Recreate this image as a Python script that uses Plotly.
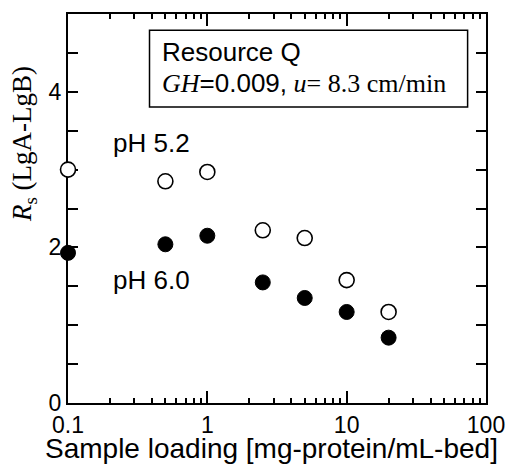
import plotly.graph_objects as go

# Sample loading [mg-protein/mL-bed]
loading = [0.1, 0.5, 1.0, 2.5, 5.0, 10, 20]
# Rs (LgA-LgB)
rs_ph52 = [3.00, 2.85, 2.97, 2.22, 2.12, 1.58, 1.17]
rs_ph60 = [1.93, 2.04, 2.15, 1.55, 1.35, 1.17, 0.84]

x_ticks = [0.1, 1, 10, 100]
x_ticktext = ["0.1", "1", "10", "100"]
y_ticks = [0, 2, 4]

sans = "Liberation Sans, Arial, sans-serif"
serif = "Liberation Serif, Times New Roman, serif"

fig = go.Figure()

fig.add_trace(go.Scatter(x=loading, y=rs_ph52, mode='markers', name='pH 5.2',
                         cliponaxis=False,
                         marker=dict(size=15, color='white', line=dict(color='black', width=1.6))))
fig.add_trace(go.Scatter(x=loading, y=rs_ph60, mode='markers', name='pH 6.0',
                         cliponaxis=False,
                         marker=dict(size=15, color='black', line=dict(color='black', width=1))))

fig.update_xaxes(type='log', range=[-1, 2], showline=True, linecolor='black', linewidth=2,
                 mirror='ticks', ticks='inside', ticklen=12, tickwidth=1.5, tickcolor='black',
                 tickvals=x_ticks, ticktext=x_ticktext, showgrid=False, zeroline=False,
                 automargin=False, layer='below traces', ticklabelstandoff=0,
                 ticklabeloverflow='allow',
                 tickfont=dict(family=sans, size=23, color='black'),
                 minor=dict(ticks='inside', ticklen=5, tickwidth=1.5, tickcolor='black',
                            dtick='D1', showgrid=False))

fig.update_yaxes(range=[0, 5], showline=True, linecolor='black', linewidth=2,
                 mirror='ticks', ticks='inside', ticklen=10, tickwidth=1.5, tickcolor='black',
                 tickvals=y_ticks, showgrid=False, zeroline=False,
                 automargin=False, layer='below traces', ticklabelstandoff=0,
                 ticklabeloverflow='allow',
                 tickfont=dict(family=sans, size=23, color='black'),
                 minor=dict(ticks='inside', ticklen=10, tickwidth=1.5, tickcolor='black',
                            dtick=0.5, showgrid=False))

# info box
fig.add_shape(type='rect', xref='paper', yref='paper', x0=0.195, x1=0.956, y0=0.761, y1=0.958,
              line=dict(color='black', width=1.5), fillcolor='white', layer='above')

fig.add_annotation(xref='paper', yref='paper', x=0.22, y=0.902, xanchor='left', yanchor='middle',
                   text='Resource Q', showarrow=False, font=dict(family=sans, size=26, color='black'))
fig.add_annotation(xref='paper', yref='paper', x=0.22, y=0.823, xanchor='left', yanchor='middle',
                   text=("<span style=\"font-family:'Liberation Serif'\"><i>GH</i></span>=0.009,"
                         "<span style=\"font-family:'Liberation Serif'\"> <i>u</i>= 8.3 cm/min</span>"),
                   showarrow=False, font=dict(family=sans, size=26, color='black'))

# series labels
fig.add_annotation(xref='paper', yref='paper', x=0.104, y=0.668, xanchor='left', yanchor='middle',
                   text='pH 5.2', showarrow=False, font=dict(family=sans, size=26, color='black'))
fig.add_annotation(xref='paper', yref='paper', x=0.104, y=0.316, xanchor='left', yanchor='middle',
                   text='pH 6.0', showarrow=False, font=dict(family=sans, size=26, color='black'))

# axis titles
fig.add_annotation(xref='paper', yref='paper', x=-0.105, y=0.666, xanchor='center', yanchor='middle',
                   textangle=-90, text='<i>R</i><sub>s</sub> (LgA-LgB)', showarrow=False,
                   font=dict(family=serif, size=27, color='black'))
fig.add_annotation(xref='paper', yref='paper', x=0.486, y=-0.118, xanchor='center', yanchor='middle',
                   text='Sample loading [mg-protein/mL-bed]', showarrow=False,
                   font=dict(family=sans, size=28, color='black'))

fig.update_layout(width=506, height=464, showlegend=False,
                  margin=dict(l=68, r=20, t=14, b=61),
                  plot_bgcolor='white', paper_bgcolor='white')

# drop the default page margin so the figure fills the window exactly
fig.write_html("out.html", config={'displayModeBar': False},
               post_script="document.body.style.margin='0';")
